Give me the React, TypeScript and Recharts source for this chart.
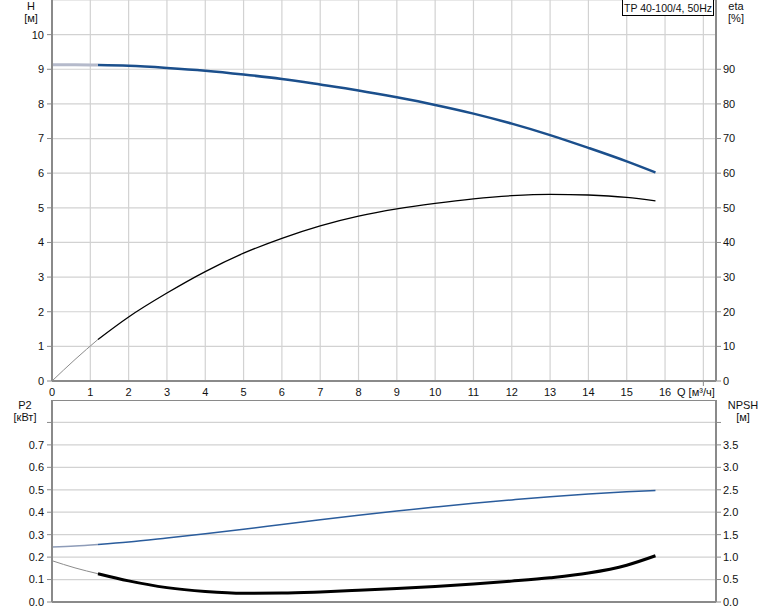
import React from 'react';
import { ComposedChart, Line, XAxis, YAxis, CartesianGrid, ReferenceLine } from 'recharts';

// Flow Q [m³/h]
const flow = [0, 0.6, 1.2, 2, 3, 4, 5, 6, 7, 8, 9, 10, 11, 12, 13, 14, 15, 15.75];
// Head H [m]
const head = [9.13, 9.13, 9.12, 9.1, 9.04, 8.96, 8.85, 8.72, 8.56, 8.39, 8.19, 7.97, 7.72, 7.43, 7.1, 6.73, 6.34, 6.02];
// Efficiency eta [%]
const eta = [0, 6.2, 12, 18.5, 25.4, 31.6, 36.9, 41.2, 44.8, 47.6, 49.7, 51.3, 52.6, 53.5, 53.9, 53.7, 53.0, 52.0];
// Power P2 [kW]
const power = [0.245, 0.249, 0.256, 0.267, 0.285, 0.304, 0.324, 0.345, 0.366, 0.386, 0.405, 0.423, 0.44, 0.455, 0.469, 0.481, 0.491, 0.497];
// NPSH [m]
const npsh = [0.92, 0.76, 0.63, 0.47, 0.32, 0.235, 0.195, 0.2, 0.225, 0.26, 0.3, 0.345, 0.4, 0.465, 0.54, 0.645, 0.82, 1.03];

const splitQ = 1.2;

const qTicks = [0, 1, 2, 3, 4, 5, 6, 7, 8, 9, 10, 11, 12, 13, 14, 15, 16, 17];
const hTicks = [0, 1, 2, 3, 4, 5, 6, 7, 8, 9, 10];
const etaTicks = [0, 10, 20, 30, 40, 50, 60, 70, 80, 90];
const p2Ticks = [0, 0.1, 0.2, 0.3, 0.4, 0.5, 0.6, 0.7, 0.8];
const npshTicks = [0, 0.5, 1, 1.5, 2, 2.5, 3, 3.5, 4];

const title = 'TP 40-100/4, 50Hz';

const data = flow.map((q, i) => ({ q, h: head[i], eta: eta[i], p2: power[i], npsh: npsh[i] }));

const FONT = '"Liberation Sans", Arial, sans-serif';
const TXT = '#111';
const AX = '#8a8a8a';
const GRID = '#d2d2d2';

const thin = (key: string) => (d: any) => (d.q <= splitQ ? d[key] : null);
const main = (key: string) => (d: any) => (d.q >= splitQ ? d[key] : null);

const XTick = (props: any) => {
  const { x, y, payload } = props;
  const v = payload.value;
  if (v > 16) {
    return <line x1={x} x2={x} y1={y - 7} y2={y - 2} stroke={AX} strokeWidth={1} />;
  }
  return (
    <text x={x} y={y} dy="0.71em" textAnchor="middle" fontSize={11} fontFamily={FONT} fill={TXT}>
      {v}
    </text>
  );
};

const makeYTick = (anchor: 'start' | 'end', maxLabel: number, digits: number) => (props: any) => {
  const { x, y, payload } = props;
  const v = payload.value;
  if (v > maxLabel) return <g />;
  return (
    <text x={x} y={y} dy="0.355em" textAnchor={anchor} fontSize={11} fontFamily={FONT} fill={TXT}>
      {v.toFixed(digits)}
    </text>
  );
};

const labelStyle: React.CSSProperties = {
  position: 'absolute',
  fontFamily: FONT,
  fontSize: 11,
  color: TXT,
  textAlign: 'center',
  lineHeight: '12px',
  whiteSpace: 'nowrap',
};

export default function App() {
  return (
    <div style={{ position: 'absolute', left: 0, top: 0, width: 774, height: 611, background: '#fff', overflow: 'hidden' }}>
      <div style={{ position: 'absolute', left: 0, top: 0 }}>
        <ComposedChart width={774} height={400} data={data} margin={{ top: 0, right: 0, bottom: 0, left: 0 }}>
          <CartesianGrid xAxisId="x" yAxisId="h" stroke={GRID} strokeWidth={1.2} />
          <XAxis
            xAxisId="x"
            dataKey="q"
            type="number"
            domain={[0, 17.33]}
            ticks={qTicks}
            allowDataOverflow
            height={19}
            tickSize={5}
            tickMargin={2}
            tickLine={false}
            axisLine={{ stroke: AX, strokeWidth: 2 }}
            tick={<XTick />}
            interval={0}
          />
          <YAxis
            yAxisId="h"
            orientation="left"
            type="number"
            domain={[0, 11]}
            ticks={hTicks}
            width={52}
            tickSize={5}
            tickMargin={3}
            axisLine={{ stroke: AX, strokeWidth: 2 }}
            tickLine={{ stroke: AX }}
            tick={makeYTick('end', 100, 0)}
            interval={0}
          />
          <YAxis
            yAxisId="eta"
            orientation="right"
            type="number"
            domain={[0, 110]}
            ticks={etaTicks}
            width={58}
            tickSize={5}
            tickMargin={2}
            axisLine={{ stroke: AX, strokeWidth: 2 }}
            tickLine={{ stroke: AX }}
            tick={makeYTick('start', 1000, 0)}
            interval={0}
          />
          <Line xAxisId="x" yAxisId="h" dataKey={thin('h')} type="monotone" stroke="#b5bacb" strokeWidth={3} dot={false} isAnimationActive={false} />
          <Line xAxisId="x" yAxisId="h" dataKey={main('h')} type="monotone" stroke="#1b4f8c" strokeWidth={2.5} dot={false} isAnimationActive={false} />
          <Line xAxisId="x" yAxisId="eta" dataKey={thin('eta')} type="monotone" stroke="#8c8c8c" strokeWidth={1} dot={false} isAnimationActive={false} />
          <Line xAxisId="x" yAxisId="eta" dataKey={main('eta')} type="monotone" stroke="#000" strokeWidth={1.3} dot={false} isAnimationActive={false} />
        </ComposedChart>
      </div>
      <div style={{ position: 'absolute', left: 0, top: 400 }}>
        <ComposedChart width={774} height={211} data={data} margin={{ top: 0, right: 0, bottom: 0, left: 0 }}>
          <CartesianGrid xAxisId="x" yAxisId="p2" stroke={GRID} strokeWidth={1.2} />
          <XAxis
            xAxisId="x"
            dataKey="q"
            type="number"
            domain={[0, 17.33]}
            ticks={qTicks}
            allowDataOverflow
            height={9}
            tick={false}
            tickLine={false}
            axisLine={{ stroke: AX, strokeWidth: 2 }}
            interval={0}
          />
          <YAxis
            yAxisId="p2"
            orientation="left"
            type="number"
            domain={[0, 0.9]}
            ticks={p2Ticks}
            width={52}
            tickSize={5}
            tickMargin={3}
            axisLine={{ stroke: AX, strokeWidth: 2 }}
            tickLine={{ stroke: AX }}
            tick={makeYTick('end', 0.75, 1)}
            interval={0}
          />
          <YAxis
            yAxisId="npsh"
            orientation="right"
            type="number"
            domain={[0, 4.5]}
            ticks={npshTicks}
            width={58}
            tickSize={5}
            tickMargin={2}
            axisLine={{ stroke: AX, strokeWidth: 2 }}
            tickLine={{ stroke: AX }}
            tick={makeYTick('start', 3.75, 1)}
            interval={0}
          />
          <ReferenceLine xAxisId="x" yAxisId="p2" y={0.9} stroke={AX} strokeWidth={2} ifOverflow="extendDomain" />
          <Line xAxisId="x" yAxisId="p2" dataKey={thin('p2')} type="monotone" stroke="#8e9cb8" strokeWidth={1.5} dot={false} isAnimationActive={false} />
          <Line xAxisId="x" yAxisId="p2" dataKey={main('p2')} type="monotone" stroke="#2a5c9c" strokeWidth={1.5} dot={false} isAnimationActive={false} />
          <Line xAxisId="x" yAxisId="npsh" dataKey={thin('npsh')} type="monotone" stroke="#8c8c8c" strokeWidth={1} dot={false} isAnimationActive={false} />
          <Line xAxisId="x" yAxisId="npsh" dataKey={main('npsh')} type="monotone" stroke="#000" strokeWidth={3} dot={false} isAnimationActive={false} />
        </ComposedChart>
      </div>

      <div style={{ ...labelStyle, left: 18, top: 0, width: 26 }}>H<br />[м]</div>
      <div style={{ ...labelStyle, left: 722, top: 0, width: 28 }}>eta<br />[%]</div>
      <div style={{ ...labelStyle, left: 677, top: 386, textAlign: 'left' }}>Q [м³/ч]</div>
      <div style={{ ...labelStyle, left: 8, top: 399, width: 34 }}>P2<br />[кВт]</div>
      <div style={{ ...labelStyle, left: 726, top: 399, width: 34 }}>NPSH<br />[м]</div>
      <div
        style={{
          position: 'absolute',
          left: 622,
          top: -1,
          width: 90,
          height: 15,
          border: '1px solid #000',
          background: '#fff',
          fontFamily: FONT,
          fontSize: 10.5,
          lineHeight: '16px',
          color: TXT,
          textAlign: 'center',
          whiteSpace: 'nowrap',
        }}
      >
        {title}
      </div>
    </div>
  );
}
